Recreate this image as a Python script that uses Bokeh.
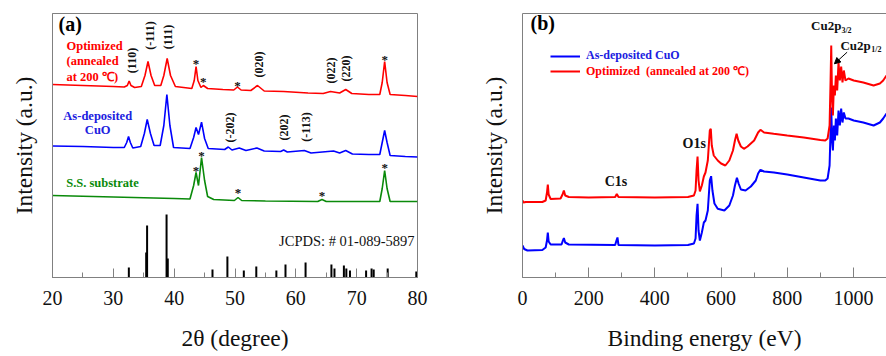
import numpy as np
from bokeh.plotting import figure
from bokeh.layouts import row
from bokeh.models import (Range1d, SingleIntervalTicker, FixedTicker, LinearAxis,
                          Legend, LegendItem, Arrow, NormalHead)
from bokeh.core.properties import value
from bokeh.embed import file_html
from bokeh.resources import INLINE

SERIF = "Liberation Serif"
GRAY = "#808080"

# ---------------- (a) XRD data ----------------
xrd_opt_x = [20, 25, 30, 31.8, 32.3, 32.6, 32.9, 33.5, 34.6, 35.2, 35.7, 36.2, 36.8, 37.8, 38.3, 38.85, 39.4,
             40.2, 42.9, 43.3, 43.6, 43.9, 44.4, 44.8, 45.5, 48, 49.8, 50.4, 51.0, 52.6, 53.7, 54.8, 58, 62,
             64.5, 65.7, 67.2, 68.2, 69.2, 72, 73.8, 74.2, 74.6, 75.0, 75.5, 78, 80]
xrd_opt_y = [193, 192, 191, 190.5, 192, 196.5, 192, 190, 191, 202, 216, 202, 192, 192, 202, 219, 202,
             191, 189, 197, 211, 197, 190, 192, 189, 188, 187.5, 190.5, 187.5, 187, 192, 186.5, 186, 184.5,
             184, 186, 184.5, 188, 184, 183, 183, 195, 216, 195, 183, 182, 181]

xrd_dep_x = [20, 25, 30, 31.8, 32.2, 32.5, 32.8, 33.2, 34.5, 35.1, 35.57, 36.1, 36.7, 37.7, 38.3, 38.8, 39.3,
             39.9, 42.6, 43.2, 43.6, 44.0, 44.5, 45.0, 45.6, 48.3, 48.9, 49.5, 50.7, 51.8, 53.6, 54.8, 57.5,
             58.0, 58.6, 61.4, 62.5, 66.2, 67.2, 68.2, 69.3, 72, 73.8, 74.2, 74.6, 75.0, 75.5, 78, 80]
xrd_dep_y = [131.5, 131, 130, 130, 135, 141, 135, 129.5, 131, 144, 158, 144, 132, 132, 152, 183, 152,
             130, 129, 140, 150, 143, 155.3, 139, 129, 128, 130.5, 127.5, 129.5, 127, 129.5, 126.5, 126,
             127.5, 125.5, 127, 124.5, 126.5, 124.5, 127, 123.5, 123, 123, 135, 147, 135, 122, 121, 120.5]

xrd_ss_x = [20, 30, 40, 42.6, 43.2, 43.6, 44.0, 44.5, 45.0, 45.5, 46.5, 49.9, 50.5, 51.1, 55, 63.6, 64.3,
            65.0, 73.8, 74.2, 74.6, 75.0, 75.5, 80]
xrd_ss_y = [82, 80.5, 79, 78.5, 92, 105, 92, 120, 97, 81, 78, 77, 80, 77, 76.5, 76, 78,
            76, 76, 89, 107, 89, 76, 76]

jcpds_x = [32.55, 35.4, 35.55, 38.75, 38.95, 46.3, 48.75, 51.45, 53.5, 56.8, 58.3, 61.6, 65.85, 66.35,
           67.9, 68.3, 68.9, 71.55, 72.45, 72.8, 75.1, 79.8]
jcpds_h = [10, 25, 52, 63, 19, 8, 21, 7, 11, 7, 13, 15, 13, 9, 12, 9, 7, 7, 9, 8, 9, 6]

star_x = [43.6, 44.8, 50.4, 74.6, 43.6, 44.5, 50.5, 64.3, 74.6]
star_y = [217, 199.3, 195.3, 221.3, 110.3, 124.7, 87.7, 85.3, 112.7]

hkl_text = ["(110)", "(-111)", "(111)", "(020)", "(022)", "(220)", "(-202)", "(202)", "(-113)"]
hkl_x = [33.0, 36.1, 38.95, 54.0, 65.7, 68.2, 49.1, 58.0, 61.6]
hkl_y = [217, 242, 240.5, 213, 207, 209, 150, 150, 150.5]

# ---------------- (b) XPS data ----------------
xps_opt_x = [0, 3, 10, 60, 70, 74, 76.5, 79, 85, 115, 121, 125, 129, 140, 200, 280, 285, 290, 400, 500,
             518, 523, 526, 529, 532, 536, 542, 548, 553, 560, 566, 569, 572, 578, 590, 600, 613, 625, 636,
             642, 647, 652, 660, 669, 680, 700, 712, 719, 730, 759, 800, 850, 900, 915, 922, 928, 931, 933,
             935.5, 938, 941, 944, 947, 951, 955, 959, 963, 967, 971, 976, 985, 1001, 1030, 1061, 1080,
             1090, 1100]
xps_opt_y = [77, 75, 75.5, 75.5, 77, 85, 93, 83, 78.5, 79, 83, 87, 82, 80.5, 80, 80.5, 83.5, 80.5, 80, 80.5,
             82, 87, 107, 121, 97, 86, 92, 101, 105, 117, 147, 148.7, 132, 122, 117, 114, 112, 117, 127,
             137, 143.7, 137, 131, 128.7, 131, 137, 145, 147.7, 145, 143.7, 142, 140, 137.5, 137, 139, 152,
             197, 232, 177, 162, 192, 182, 202, 187, 215, 197, 211, 195, 207, 197, 199, 197, 195, 192, 194,
             197, 202]

xps_dep_x = [0, 5, 15, 60, 70, 74, 76.5, 79, 85, 118, 122, 125, 129, 140, 280, 284, 287, 290, 400, 500,
             518, 523, 526, 529, 532, 536, 542, 548, 553, 560, 566, 570, 574, 580, 590, 610, 625, 636, 642,
             648, 653, 660, 674, 690, 705, 712, 719, 730, 760, 800, 850, 900, 915, 922, 928, 931, 933, 935.5,
             938, 941, 944, 947, 951, 955, 959, 963, 967, 971, 976, 985, 1001, 1030, 1061, 1080, 1090, 1100]
xps_dep_y = [32, 28.5, 27, 27.5, 30, 37, 45, 36, 33, 33, 37, 39.5, 35, 33, 32.5, 37, 40, 32.5, 32, 32.5,
             34, 39, 62, 73.7, 47, 37, 45, 55, 57, 67, 97, 101.3, 87, 74, 68.7, 67, 72, 82, 92,
             99.7, 94, 88, 87, 91, 97, 104, 107.7, 106, 105, 103, 100, 97, 97, 99, 112, 147, 170, 137,
             127, 152, 137, 159, 142, 167, 152, 169, 155, 165, 159, 159, 157, 155, 152, 155, 159, 164]


def make_fig(width, left, right, xr):
    p = figure(width=width, height=356, x_range=Range1d(*xr), y_range=Range1d(0, 264),
               output_backend="svg", toolbar_location=None,
               min_border_left=left, min_border_right=right, min_border_top=13, min_border_bottom=79)
    p.xgrid.visible = False
    p.ygrid.visible = False
    p.background_fill_color = "white"
    p.border_fill_color = "white"
    xa = p.xaxis[0]
    xa.axis_line_color = GRAY
    xa.major_tick_line_color = GRAY
    xa.minor_tick_line_color = GRAY
    xa.major_tick_out = 0
    xa.minor_tick_out = 0
    xa.major_label_text_font = SERIF
    xa.major_label_text_font_size = "20px"
    xa.major_label_text_color = "#111111"
    xa.major_label_standoff = 13
    xa.axis_label_text_font = SERIF
    xa.axis_label_text_font_size = "23.5px"
    xa.axis_label_text_font_style = "normal"
    xa.axis_label_text_color = "#111111"
    xa.axis_label_standoff = 17
    ya = p.yaxis[0]
    ya.ticker = FixedTicker(ticks=[])
    ya.axis_line_color = GRAY
    ya.major_tick_line_color = None
    ya.minor_tick_line_color = None
    ya.axis_label = "Intensity (a.u.)"
    ya.axis_label_text_font = SERIF
    ya.axis_label_text_font_size = "23.5px"
    ya.axis_label_text_font_style = "normal"
    ya.axis_label_text_color = "#111111"
    ya.axis_label_standoff = 16
    return p


def txt(p, x, y, t, size, color="black", bold=True, align="left", angle=0.0):
    p.text(x=x, y=y, text=t, text_font=value(SERIF), text_font_size=size,
           text_font_style="bold" if bold else "normal", text_color=color,
           text_align=align, text_baseline="middle", angle=angle)


# ---------------- panel (a) ----------------
pa = make_fig(440, 52, 23, (20, 80))
pa.outline_line_color = GRAY
pa.xaxis[0].ticker = SingleIntervalTicker(interval=10, num_minor_ticks=2)
pa.xaxis[0].major_tick_in = 9
pa.xaxis[0].minor_tick_in = 5
pa.xaxis[0].axis_label = "2θ (degree)"

pa.segment(x0=jcpds_x, y0=[0] * len(jcpds_x), x1=jcpds_x, y1=jcpds_h, line_color="black", line_width=2)
pa.line(xrd_ss_x, xrd_ss_y, line_color="#0a8a0a", line_width=1.6)
pa.line(xrd_dep_x, xrd_dep_y, line_color="#0000ff", line_width=1.6)
pa.line(xrd_opt_x, xrd_opt_y, line_color="#ff0000", line_width=1.6)

txt(pa, [21.0], [254], ["(a)"], "20px")
txt(pa, [22.3, 22.3, 22.3], [231.3, 217, 200.3], ["Optimized", "(annealed", "at 200 ℃)"], "12.5px", color="#ff0000")
txt(pa, [27.43, 27.43], [162, 148], ["As-deposited", "CuO"], "12.5px", color="#2020e0", align="center")
txt(pa, [22.25], [95], ["S.S. substrate"], "12.5px", color="#0a8a0a")
txt(pa, [79.5], [36.3], ["JCPDS: # 01-089-5897"], "14.5px", color="#111111", bold=False, align="right")
txt(pa, hkl_x, hkl_y, hkl_text, "12px", color="#111111", align="center", angle=np.pi / 2)
txt(pa, star_x, [v - 3 for v in star_y], ["*"] * len(star_x), "13px", color="#111111", align="center")

# ---------------- panel (b) ----------------
pb = make_fig(446, 82, 0, (0, 1100))
pb.outline_line_color = None
pb.xaxis[0].ticker = SingleIntervalTicker(interval=200, num_minor_ticks=2)
pb.xaxis[0].major_tick_in = 10
pb.xaxis[0].minor_tick_in = 5
pb.xaxis[0].axis_label = "Binding energy (eV)"
top = LinearAxis(ticker=FixedTicker(ticks=[]), axis_line_color=GRAY,
                 major_tick_line_color=None, minor_tick_line_color=None)
pb.add_layout(top, "above")

r_dep = pb.line(xps_dep_x, xps_dep_y, line_color="#0000ff", line_width=2)
r_opt = pb.line(xps_opt_x, xps_opt_y, line_color="#ff0000", line_width=2)

for item, col, loc in [(LegendItem(label="As-deposited CuO", renderers=[r_dep]), "#2020e0", (28, 213.7)),
                       (LegendItem(label="Optimized  (annealed at 200 ℃)", renderers=[r_opt]), "#ff0000", (28, 198))]:
    lg = Legend(items=[item], location=loc, padding=0, margin=0, glyph_width=30, glyph_height=14,
                label_height=14, label_standoff=6, spacing=0, background_fill_alpha=0,
                border_line_alpha=0, label_text_font=SERIF, label_text_font_size="12px",
                label_text_font_style="bold", label_text_color=col)
    pb.add_layout(lg, "center")

txt(pb, [24.2], [255], ["(b)"], "20px")
txt(pb, [519], [133.7], ["O1s"], "14px", color="#111111", align="center")
txt(pb, [282.5], [96.3], ["C1s"], "14px", color="#111111", align="center")
txt(pb, [872.2, 960.7], [252, 232], ["Cu2p", "Cu2p"], "13px", color="#111111")
txt(pb, [963.7, 1054], [247, 228], ["3/2", "1/2"], "8px", color="#111111")
pb.add_layout(Arrow(end=NormalHead(size=6, fill_color="black", line_color="black"),
                    x_start=981, y_start=225.3, x_end=942.6, y_end=213.7,
                    line_color="black", line_width=1))

layout = row(pa, pb)
open("out.html", "w").write(file_html(layout, INLINE))
